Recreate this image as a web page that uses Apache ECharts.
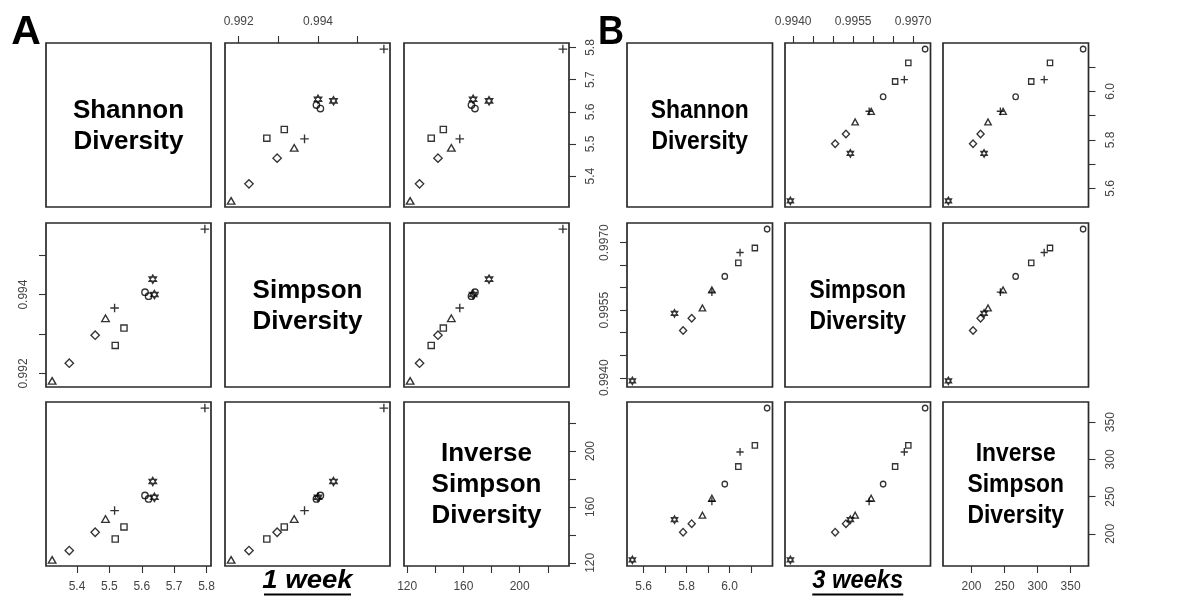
<!DOCTYPE html>
<html>
<head>
<meta charset="utf-8">
<script src="https://cdn.jsdelivr.net/npm/echarts@6/dist/echarts.min.js"></script>
<style>
  html, body { margin: 0; padding: 0; background: #fff; }
  #chart { width: 1182px; height: 597px; }
</style>
</head>
<body>
<div id="chart"></div>
<script>
// Per-sample diversity indices, two samples per treatment group
const sampleGroup = ['tri', 'tri', 'dia', 'dia', 'sq', 'sq', 'plus', 'plus', 'star', 'star', 'circ', 'circ'];

// 1 week
const shannon1w    = [5.323, 5.488, 5.376, 5.456, 5.518, 5.545, 5.516, 5.795, 5.639, 5.634, 5.621, 5.610];
const simpson1w    = [0.99181, 0.99340, 0.99226, 0.99297, 0.99271, 0.99315, 0.99366, 0.99566, 0.99400, 0.99439, 0.99396, 0.99406];
const invSimpson1w = [122.1, 151.4, 128.8, 141.9, 137.1, 145.7, 157.4, 230.7, 166.9, 178.2, 165.7, 168.2];

// 3 weeks
const shannon3w    = [5.874, 5.918, 5.784, 5.824, 6.041, 6.118, 5.918, 6.049, 5.548, 5.744, 5.978, 6.175];
const simpson3w    = [0.99555, 0.99595, 0.99505, 0.99532, 0.99655, 0.99688, 0.99590, 0.99678, 0.99393, 0.99543, 0.99625, 0.99730];
const invSimpson3w = [225.0, 247.8, 202.3, 213.7, 290.4, 318.8, 243.7, 310.0, 165.0, 219.0, 266.8, 368.9];

const varNames = ['Shannon\nDiversity', 'Simpson\nDiversity', 'Inverse\nSimpson\nDiversity'];

// Axis ticks and the ticks that carry a label
const shannonTicks1w  = [5.4, 5.5, 5.6, 5.7, 5.8];
const shannonLabels1w = [5.4, 5.5, 5.6, 5.7, 5.8];
const simpsonTicks1w  = [0.992, 0.993, 0.994, 0.995];
const simpsonLabels1w = [0.992, 0.994];
const invTicks1w      = [120, 140, 160, 180, 200, 220];
const invLabels1w     = [120, 160, 200];

const shannonTicks3w  = [5.6, 5.7, 5.8, 5.9, 6.0, 6.1];
const shannonLabels3w = [5.6, 5.8, 6.0];
const simpsonTicks3w  = [0.994, 0.9945, 0.995, 0.9955, 0.996, 0.9965, 0.997];
const simpsonLabels3w = [0.994, 0.9955, 0.997];
const invTicks3w      = [200, 250, 300, 350];
const invLabels3w     = [200, 250, 300, 350];

// Open plotting symbols: triangle, diamond, square, plus, hexagram, circle
const MARKS = {
  tri:  { symbol: 'triangle', size: [7.6, 6.6] },
  dia:  { symbol: 'diamond',  size: [8.4, 8.4] },
  sq:   { symbol: 'rect',     size: [6.2, 6.2] },
  plus: { symbol: 'path://M0,-1L0,1M-1,0L1,0', size: [8.6, 8.6] },
  star: { symbol: 'path://M0,-1L0.866,0.5L-0.866,0.5ZM0,1L0.866,-0.5L-0.866,-0.5Z', size: [7.4, 8.4] },
  circ: { symbol: 'circle',   size: [6.4, 6.4] }
};

const panels = [
  {
    vars: [shannon1w, simpson1w, invSimpson1w],
    ticks: [shannonTicks1w, simpsonTicks1w, invTicks1w],
    labels: [shannonLabels1w, simpsonLabels1w, invLabels1w],
    digits: [1, 3, 0],
    cols: [46, 225, 404], colW: 165,
    squeeze: 1, markScale: [1, 1],
    letter: 'A', letterX: 26,
    caption: '1 week', captionScale: 1.06
  },
  {
    vars: [shannon3w, simpson3w, invSimpson3w],
    ticks: [shannonTicks3w, simpsonTicks3w, invTicks3w],
    labels: [shannonLabels3w, simpsonLabels3w, invLabels3w],
    digits: [1, 4, 0],
    cols: [627, 785, 943], colW: 145.5,
    squeeze: 0.88, markScale: [0.85, 0.9],
    letter: 'B', letterX: 611,
    caption: '3 weeks', captionScale: 0.91
  }
];

const rowTops = [43, 223, 402];
const rowH = 164;
const FONT = '"Liberation Sans", Arial, Helvetica, sans-serif';

// Data range widened by 4% on each side
function paddedRange(arr) {
  const lo = Math.min.apply(null, arr), hi = Math.max.apply(null, arr);
  const pad = (hi - lo) * 0.04;
  return [lo - pad, hi + pad];
}

function makeAxis(p, v, gi, pos, isX) {
  const range = paddedRange(p.vars[v]);
  const shown = !!pos;
  return {
    type: 'value',
    gridIndex: gi,
    min: range[0],
    max: range[1],
    position: pos || (isX ? 'bottom' : 'left'),
    axisLine: { show: false },
    splitLine: { show: false },
    splitArea: { show: false },
    axisTick: {
      show: shown, inside: false, length: 7,
      lineStyle: { color: '#333', width: 1.1 },
      customValues: p.ticks[v]
    },
    axisLabel: {
      show: shown,
      customValues: p.labels[v],
      margin: isX ? 15 : 16,
      rotate: isX ? 0 : 90,
      color: '#444',
      fontFamily: FONT,
      fontSize: 12,
      formatter: function (val) { return Number(val).toFixed(p.digits[v]); }
    }
  };
}

const grid = [], xAxis = [], yAxis = [], series = [], elements = [];

panels.forEach(function (p) {
  for (let r = 0; r < 3; r++) {
    for (let c = 0; c < 3; c++) {
      const gi = grid.length;
      const left = p.cols[c], top = rowTops[r];
      grid.push({
        left: left, top: top, width: p.colW, height: rowH,
        show: true, borderColor: '#2a2a2a', borderWidth: 1.7,
        backgroundColor: 'transparent',
        containLabel: false, outerBoundsMode: 'none'
      });
      const xPos = c === 1 ? (r === 0 ? 'top' : null) : (r === 2 ? 'bottom' : null);
      const yPos = r === 1 ? (c === 0 ? 'left' : null) : (c === 2 ? 'right' : null);
      xAxis.push(makeAxis(p, c, gi, xPos, true));
      yAxis.push(makeAxis(p, r, gi, yPos, false));

      if (r !== c) {
        const xs = p.vars[c], ys = p.vars[r];
        series.push({
          type: 'scatter',
          xAxisIndex: gi, yAxisIndex: gi,
          silent: true,
          animation: false,
          emphasis: { disabled: true },
          itemStyle: { color: 'rgba(0,0,0,0)', borderColor: '#000', borderWidth: 1.35 },
          data: xs.map(function (x, k) {
            const m = MARKS[sampleGroup[k]];
            return {
              value: [x, ys[k]],
              symbol: m.symbol,
              symbolSize: [m.size[0] * p.markScale[0], m.size[1] * p.markScale[1]]
            };
          })
        });
      } else {
        elements.push({
          type: 'text', z: 100, silent: true,
          x: left + p.colW / 2, y: top + rowH / 2 + 1,
          scaleX: p.squeeze,
          style: {
            text: varNames[r],
            font: 'bold 26px ' + FONT,
            fill: '#000',
            lineHeight: 31,
            align: 'center', verticalAlign: 'middle',
            textAlign: 'center', textVerticalAlign: 'middle'
          }
        });
      }
    }
  }

  // panel letter
  elements.push({
    type: 'text', z: 100, silent: true,
    x: p.letterX, y: 33, scaleX: p.squeeze,
    style: {
      text: p.letter, font: 'bold 41px ' + FONT, fill: '#000',
      align: 'center', verticalAlign: 'middle',
      textAlign: 'center', textVerticalAlign: 'middle'
    }
  });

  // underlined caption below the middle column
  const cx = p.cols[1] + p.colW / 2;
  const capHalf = p.letter === 'A' ? 43.5 : 45.5;
  elements.push({
    type: 'text', z: 100, silent: true,
    x: cx, y: 581, scaleX: p.captionScale,
    style: {
      text: p.caption, font: 'italic bold 26px ' + FONT, fill: '#000',
      align: 'center', verticalAlign: 'middle',
      textAlign: 'center', textVerticalAlign: 'middle'
    }
  });
  elements.push({
    type: 'line', z: 100, silent: true,
    shape: { x1: cx - capHalf, y1: 594.5, x2: cx + capHalf, y2: 594.5 },
    style: { stroke: '#000', lineWidth: 2 }
  });
});

const chart = echarts.init(document.getElementById('chart'), null, { renderer: 'canvas' });
chart.setOption({
  animation: false,
  backgroundColor: '#fff',
  grid: grid,
  xAxis: xAxis,
  yAxis: yAxis,
  series: series,
  graphic: { elements: elements }
});
</script>
</body>
</html>
